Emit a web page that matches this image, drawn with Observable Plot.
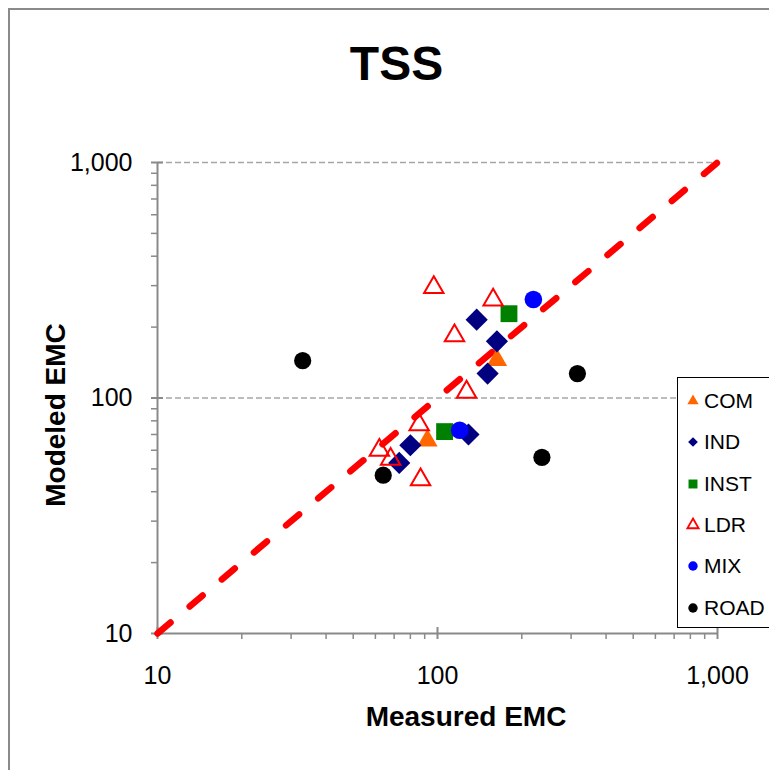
<!DOCTYPE html>
<html>
<head>
<meta charset="utf-8">
<script src="https://cdn.jsdelivr.net/npm/d3@7"></script>
<script src="https://cdn.jsdelivr.net/npm/@observablehq/plot@0.6"></script>
<style>
  html, body { margin: 0; padding: 0; background: #fff; overflow: hidden; }
  #wrap { position: relative; width: 769px; height: 770px; overflow: hidden; font-family: "Liberation Sans", Arial, sans-serif; }
  #chart { position: absolute; left: 0; top: 0; }
  .border { position: absolute; left: 8px; top: 8px; width: 800px; height: 800px; border: 2px solid #8a8a8a; box-sizing: border-box; pointer-events: none; }
  .title { position: absolute; left: 0; width: 793px; text-align: center; top: 34px; font-size: 48px; font-weight: bold; line-height: 60px; color: #000; }
  .xlabel { position: absolute; left: 266px; width: 400px; text-align: center; top: 700px; font-size: 28px; font-weight: bold; line-height: 34px; color: #000; }
  .ylabel { position: absolute; left: 56px; top: 415px; width: 300px; margin-left: -150px; margin-top: -17px; text-align: center; font-size: 28px; font-weight: bold; line-height: 34px; transform: rotate(-90deg); color: #000; }
  .legend { position: absolute; left: 677px; top: 377px; width: 110px; height: 251px; border: 1.5px solid #000; background: #fff; box-sizing: border-box; }
  .legend .item { position: absolute; left: 0; height: 30px; display: flex; align-items: center; font-size: 21px; color: #000; }
  .legend svg { width: 22px; height: 22px; margin-left: 4px; margin-right: 0px; }
</style>
</head>
<body>
<div id="wrap">
  <div id="chart"></div>
  <div class="title">TSS</div>
  <div class="ylabel">Modeled EMC</div>
  <div class="xlabel">Measured EMC</div>
  <div class="legend" id="legend"></div>
  <div class="border"></div>
</div>
<script>
// ---- data ----
const categories = ["COM", "IND", "INST", "LDR", "MIX", "ROAD"];
const comX = [163, 92];
const comY = [145, 66];
const indX = [138, 163, 151, 129, 80, 73];
const indY = [215, 174, 127, 70, 63, 53];
const instX = [180, 106];
const instY = [228, 72];
const ldrX = [97, 158, 115, 127, 86, 62, 68, 87];
const ldrY = [295, 261, 184, 106, 77, 60, 55, 45];
const mixX = [220, 120];
const mixY = [262, 73];
const roadX = [33, 316, 236, 64];
const roadY = [144, 127, 56, 47];
const lineX = [10, 1000];
const lineY = [10, 1000];
const majorTicks = [10, 100, 1000];
const gridTicks = [100, 1000];

// ---- styles per series ----
const styles = {
  COM:  {symbol: "triangle", fill: "#ff6600", stroke: "none", r: 7.6},
  IND:  {symbol: "diamond2", fill: "#000080", stroke: "none", r: 10},
  INST: {symbol: "square",   fill: "#008000", stroke: "none", r: 9.5},
  LDR:  {symbol: "triangle", fill: "none",    stroke: "#ff0000", r: 7.2, strokeWidth: 2},
  MIX:  {symbol: "circle",   fill: "#0000ff", stroke: "none", r: 8.8},
  ROAD: {symbol: "circle",   fill: "#000000", stroke: "none", r: 8.6}
};
const seriesData = {
  COM: comX.map((x, i) => ({x, y: comY[i]})),
  IND: indX.map((x, i) => ({x, y: indY[i]})),
  INST: instX.map((x, i) => ({x, y: instY[i]})),
  LDR: ldrX.map((x, i) => ({x, y: ldrY[i]})),
  MIX: mixX.map((x, i) => ({x, y: mixY[i]})),
  ROAD: roadX.map((x, i) => ({x, y: roadY[i]}))
};
const diag = lineX.map((x, i) => ({x, y: lineY[i]}));

const minor = [];
for (const base of [10, 100]) for (let k = 2; k <= 9; k++) minor.push(base * k);

const axisColor = "#8a8a8a";
const blank = () => "";

const dotMarks = categories.map(c => {
  const s = styles[c];
  return Plot.dot(seriesData[c], {
    x: "x", y: "y", symbol: () => s.symbol, r: s.r,
    fill: s.fill, stroke: s.stroke, strokeWidth: s.strokeWidth || 0
  });
});

const chart = Plot.plot({
  width: 769,
  height: 770,
  marginLeft: 157,
  marginRight: 52,
  marginTop: 162,
  marginBottom: 137,
  style: {fontFamily: '"Liberation Sans", Arial, sans-serif', background: "transparent", color: "#000"},
  x: {type: "log", domain: [10, 1000], axis: null},
  y: {type: "log", domain: [10, 1000], axis: null},
  symbol: {type: "identity"},
  marks: [
    Plot.ruleY(gridTicks, {stroke: "#a6a6a6", strokeWidth: 1.3, strokeDasharray: "6,3"}),
    Plot.ruleX([10], {stroke: axisColor, strokeWidth: 2}),
    Plot.ruleY([10], {stroke: axisColor, strokeWidth: 2}),
    Plot.axisX({ticks: minor, tickSize: 6, tickFormat: blank, label: null, stroke: axisColor, strokeWidth: 1.5}),
    Plot.axisX({ticks: majorTicks, tickSize: 12, dy: -6, tickFormat: blank, label: null, stroke: axisColor, strokeWidth: 2}),
    Plot.axisX({ticks: majorTicks, tickSize: 0, tickPadding: 33, tickFormat: d3.format(","), label: null, fontSize: 25, fill: "#000"}),
    Plot.axisY({ticks: minor, tickSize: 6, tickFormat: blank, label: null, stroke: axisColor, strokeWidth: 1.5}),
    Plot.axisY({ticks: majorTicks, tickSize: 12, dx: 6, tickFormat: blank, label: null, stroke: axisColor, strokeWidth: 2}),
    Plot.axisY({ticks: majorTicks, tickSize: 0, tickPadding: 25, tickFormat: d3.format(","), label: null, fontSize: 25, fill: "#000"}),
    Plot.line(diag, {x: "x", y: "y", stroke: "#ff0000", strokeWidth: 6.5, strokeDasharray: "17,25", strokeLinecap: "round"}),
    ...dotMarks
  ]
});
document.getElementById("chart").appendChild(chart);

// ---- legend ----
const symMap = {triangle: d3.symbolTriangle, diamond2: d3.symbolDiamond2, square: d3.symbolSquare, circle: d3.symbolCircle};
const legend = document.getElementById("legend");
categories.forEach((c, i) => {
  const s = styles[c];
  const item = document.createElement("div");
  item.className = "item";
  item.style.top = (8 + i * 41.3) + "px";
  const ns = "http://www.w3.org/2000/svg";
  const svg = document.createElementNS(ns, "svg");
  svg.setAttribute("viewBox", "-11 -11 22 22");
  const p = document.createElementNS(ns, "path");
  const size = (s.symbol === "square" ? 80 : s.symbol === "diamond2" ? 60 : s.symbol === "circle" ? 70 : 55);
  p.setAttribute("d", d3.symbol(symMap[s.symbol], size)());
  p.setAttribute("fill", s.fill);
  p.setAttribute("stroke", s.stroke);
  p.setAttribute("stroke-width", s.strokeWidth ? 1.8 : 0);
  svg.appendChild(p);
  item.appendChild(svg);
  const t = document.createElement("span");
  t.textContent = c;
  item.appendChild(t);
  legend.appendChild(item);
});
</script>
</body>
</html>
